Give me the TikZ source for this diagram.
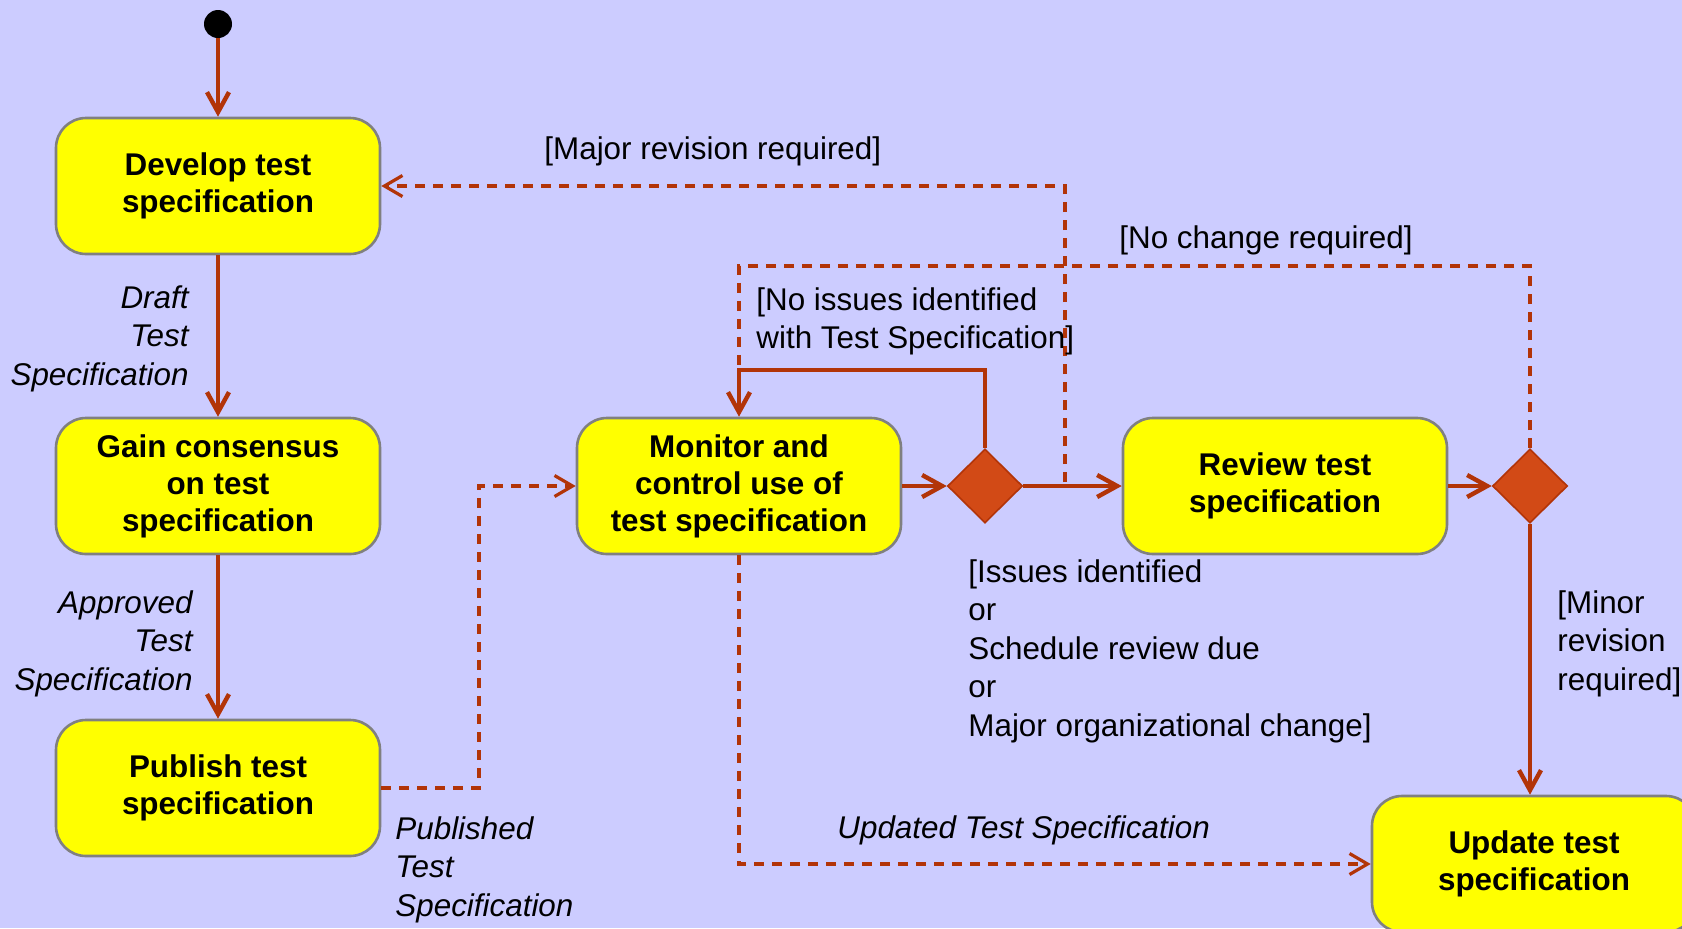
\documentclass[tikz,border=0pt]{standalone}
\usepackage{fontspec}
\setmainfont{Liberation Sans}
\usetikzlibrary{arrows.meta,shapes.geometric}
\definecolor{bg}{RGB}{204,204,255}
\definecolor{flowred}{RGB}{178,52,8}
\definecolor{diafill}{RGB}{210,74,22}
\definecolor{boxline}{RGB}{128,128,128}
\definecolor{boxfill}{RGB}{255,255,0}

\begin{document}
\begin{tikzpicture}[x=0.5pt,y=-0.5pt,
  state/.style={draw=boxline, line width=1.3pt, fill=boxfill, rounded corners=15pt,
    minimum width=162pt, minimum height=68pt, align=center, inner sep=0pt,
    font=\fontsize{15.7}{18.5}\selectfont\bfseries},
  decision/.style={diamond, draw=flowred, line width=0.8pt, fill=diafill,
    minimum width=37.5pt, minimum height=37pt, inner sep=0pt},
  startdot/.style={circle, fill=black, minimum size=14pt, inner sep=0pt},
  flow/.style={draw=flowred, line width=2.2pt, -{Straight Barb[length=10pt,width=11pt]}},
  dflowline/.style={draw=flowred, line width=1.6pt, dash pattern=on 5pt off 4pt},
  dflow/.style={dflowline, -{Straight Barb[length=9pt,width=10.5pt]}},
  guard/.style={inner sep=0pt, font=\fontsize{15.7}{19.3}\selectfont},
  product/.style={guard, font=\fontsize{15.7}{19.3}\selectfont\itshape}]

  % canvas
  \fill[bg] (0,0) rectangle (1682,928);
  \useasboundingbox (0,0) rectangle (1682,928);

  % states
  \node[startdot] (init) at (218,24) {};
  \node[state] (dev)  at (218,186) {Develop test\\specification};
  \node[state] (gain) at (218,486) {Gain consensus\\on test\\specification};
  \node[state] (pub)  at (218,788) {Publish test\\specification};
  \node[state] (mon)  at (739,486) {Monitor and\\control use of\\test specification};
  \node[state] (rev)  at (1285,486) {Review test\\specification};
  \node[state] (upd)  at (1534,864) {Update test\\specification};

  % decisions
  \node[decision] (d1) at (985,486) {};
  \node[decision] (d2) at (1530,486) {};

  % bend points
  \coordinate (pubturn) at (479,486);
  \coordinate (loopcorner) at (739,370);
  \coordinate (majorstart) at (1065,482);
  \coordinate (nochange) at (739,266);

  % main flow
  \draw[flow] (init) -- (dev);
  \draw[flow] (dev) -- (gain);
  \draw[flow] (gain) -- (pub);
  \draw[dflow] (pub.east) -| (pubturn) -- (mon.west);
  \draw[flow] (mon) -- (d1);
  \draw[flow] (d1.north) |- (loopcorner) -- (mon.north);
  \draw[flow] (d1) -- (rev);
  \draw[dflow] (majorstart) |- (dev.east);
  \draw[flow] (rev) -- (d2);
  \draw[dflowline] (d2.north) |- (nochange) -- (loopcorner);
  \draw[flow] (d2.south) -- (d2.south |- upd.north);
  \draw[dflow] (mon.south) |- (upd.west);

  % products
  \node[product, anchor=north east, align=right] (lbldraft) at (189,285) {Draft\\Test\\Specification};
  \node[product, anchor=north east, align=right] (lblappr) at (193,590) {Approved\\Test\\Specification};
  \node[product, anchor=north west, align=left] (lblpub) at (395,816) {Published\\Test\\Specification};
  \node[product, anchor=north west] (lblupd) at (837,815) {Updated Test Specification};

  % guards
  \node[guard, anchor=north west] (gmajor) at (544,136) {[Major revision required]};
  \node[guard, anchor=north west] (gnochange) at (1119,225) {[No change required]};
  \node[guard, anchor=north west, align=left] (gnoissue) at (756,287) {[No issues identified\\with Test Specification]};
  \node[guard, anchor=north west, align=left] (gissue) at (968,559) {[Issues identified\\or\\Schedule review due\\or\\Major organizational change]};
  \node[guard, anchor=north west, align=left] (gminor) at (1557,590) {[Minor\\revision\\required]};
\end{tikzpicture}
\end{document}
